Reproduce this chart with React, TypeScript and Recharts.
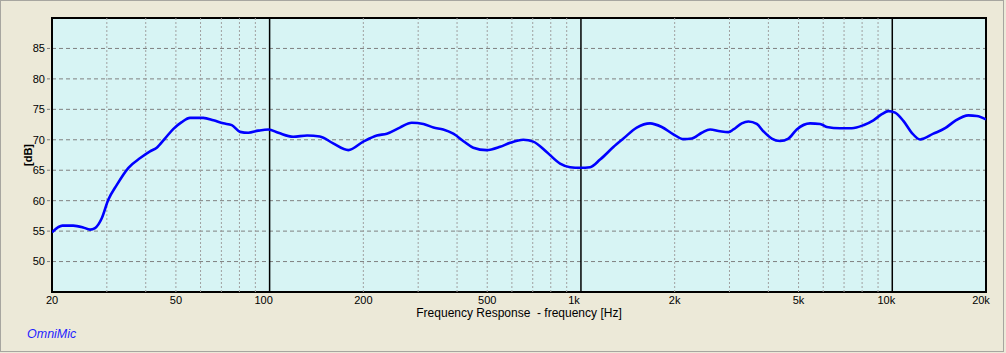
import {
  LineChart,
  Line,
  XAxis,
  YAxis,
  CartesianGrid,
  ReferenceLine,
  ReferenceArea,
} from "recharts";

// frequency response
const freqs = [
  20, 21.6, 23.4, 25.2, 26.5, 27.5, 28.9, 30.3, 32.3, 35.2, 38.4, 41.3, 43.4,
  46.1, 49.1, 52.2, 55.5, 61.2, 66, 71, 75.6, 80.4, 85.4, 92, 99.1, 106.7, 119,
  132, 145, 160, 179, 200, 221, 238, 262, 286, 312, 336, 361, 389, 424, 451,
  498, 550, 592, 653, 703, 776, 857, 923, 994, 1070, 1152, 1271, 1369, 1511,
  1667, 1818, 1981, 2134, 2270, 2444, 2599, 2798, 2976, 3088, 3285, 3450, 3670,
  3854, 4102, 4363, 4638, 4934, 5445, 5864, 6162, 6798, 7414, 8078, 8697, 9254,
  9718, 10210, 10856, 11550, 12282, 13552, 14782, 15910, 17566, 18684, 20000,
];

const levels = [
  54.8, 55.9, 55.9, 55.6, 55.25, 55.5, 57.1, 60.1, 62.6, 65.4, 67.0, 68.1,
  68.7, 70.2, 71.8, 72.9, 73.6, 73.6, 73.2, 72.7, 72.4, 71.3, 71.15, 71.5, 71.7,
  71.15, 70.5, 70.7, 70.55, 69.4, 68.3, 69.7, 70.7, 71.0, 72.0, 72.8, 72.6, 72.0,
  71.7, 71.0, 69.6, 68.7, 68.3, 68.85, 69.5, 70.0, 69.7, 68.0, 66.1, 65.5, 65.4,
  65.5, 66.75, 68.8, 70.2, 72.0, 72.7, 72.1, 70.9, 70.1, 70.2, 71.15, 71.7, 71.4,
  71.25, 71.7, 72.7, 73.0, 72.6, 71.4, 70.2, 69.8, 70.2, 71.7, 72.7, 72.6, 72.1,
  71.9, 71.9, 72.4, 73.2, 74.2, 74.7, 74.45, 73.1, 71.15, 70.05, 71.0, 71.9,
  73.1, 74.0, 73.9, 73.35,
];

const xTicks = [20, 50, 100, 200, 500, 1000, 2000, 5000, 10000, 20000];
const xTickLabels = ["20", "50", "100", "200", "500", "1k", "2k", "5k", "10k", "20k"];
const yTicks = [50, 55, 60, 65, 70, 75, 80, 85];
const minorFreqs = [
  30, 40, 50, 60, 70, 80, 90, 200, 300, 400, 500, 600, 700, 800, 900, 2000,
  3000, 4000, 5000, 6000, 7000, 8000, 9000,
];
const decadeFreqs = [100, 1000, 10000];

const data = freqs.map((f, i) => ({ f, db: levels[i] }));

const FONT = '"Liberation Sans", Arial, sans-serif';

function XTick(props: any) {
  const { x, y, payload } = props;
  const i = xTicks.indexOf(payload.value);
  const label = xTickLabels[i] ?? String(payload.value);
  // the original draws some labels a few pixels left of their line
  const shift = { 100: -6, 1000: -7, 10000: -6, 20000: -5 } as Record<number, number>;
  return (
    <text
      x={x + (shift[payload.value] ?? 0)}
      y={y + 4}
      textAnchor="middle"
      fontSize={11}
      fontFamily={FONT}
      fill="#000"
    >
      {label}
    </text>
  );
}

export default function App() {
  return (
    <div
      style={{
        position: "absolute",
        left: 0,
        top: 0,
        width: 1006,
        height: 353,
        background: "#ECE9D8",
        fontFamily: FONT,
      }}
    >
      <div
        style={{
          position: "absolute",
          left: 0,
          top: 0,
          width: 1002,
          height: 350,
          border: "1px solid #a7a6a0",
        }}
      />
      <LineChart
        width={1006}
        height={353}
        data={data}
        margin={{ top: 18, right: 20, bottom: 31, left: 0 }}
      >
        <CartesianGrid
          vertical={false}
          stroke="#808080"
          strokeDasharray="4 3"
          fill="#D7F4F4"
          fillOpacity={1}
        />
        <XAxis
          dataKey="f"
          type="number"
          scale="log"
          domain={[20, 20000]}
          ticks={xTicks}
          tick={<XTick />}
          tickLine={false}
          axisLine={false}
          height={30}
          allowDataOverflow
        />
        <YAxis
          type="number"
          domain={[45, 90]}
          ticks={yTicks}
          width={52}
          tick={{ fontSize: 11, fontFamily: FONT, fill: "#000" }}
          tickLine={{ stroke: "#808080", strokeDasharray: "3 2" }}
          tickSize={5}
          axisLine={false}
          allowDataOverflow
        />
        {minorFreqs.map((f) => (
          <ReferenceLine
            key={f}
            x={f}
            stroke="#a0a0a0"
            strokeDasharray="2 2"
            strokeWidth={1}
          />
        ))}
        {decadeFreqs.map((f) => (
          <ReferenceLine key={f} x={f} stroke="#000" strokeWidth={1.5} />
        ))}
        <ReferenceArea
          x1={20}
          x2={20000}
          y1={45}
          y2={90}
          fill="none"
          stroke="#000"
          strokeWidth={2}
        />
        <Line
          type="monotone"
          dataKey="db"
          stroke="#0000FF"
          strokeWidth={2.6}
          dot={false}
          isAnimationActive={false}
        />
      </LineChart>
      <div
        style={{
          position: "absolute",
          left: 28,
          top: 155,
          transform: "translate(-50%, -50%) rotate(-90deg)",
          fontSize: 11,
          fontWeight: "bold",
          color: "#000",
          whiteSpace: "nowrap",
        }}
      >
        [dB]
      </div>
      <div
        style={{
          position: "absolute",
          left: 519,
          top: 313,
          transform: "translate(-50%, -50%)",
          fontSize: 12,
          color: "#000",
          whiteSpace: "pre",
        }}
      >
        {"Frequency Response  - frequency [Hz]"}
      </div>
      <div
        style={{
          position: "absolute",
          left: 27,
          top: 334,
          transform: "translateY(-50%)",
          fontSize: 12.5,
          fontStyle: "italic",
          color: "#1f1fff",
        }}
      >
        OmniMic
      </div>
    </div>
  );
}
